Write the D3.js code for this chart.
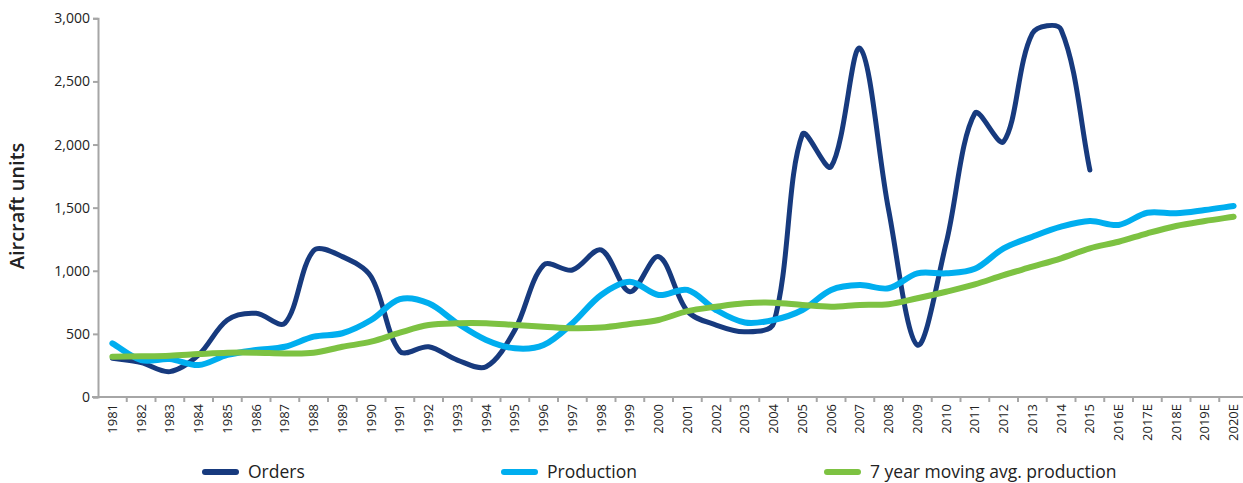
<!DOCTYPE html>
<html>
<head>
<meta charset="utf-8">
<script src="https://cdn.jsdelivr.net/npm/d3@7"></script>
<style>
  html, body { margin: 0; padding: 0; background: #fff; }
  svg { display: block; }
  text { font-family: "Open Sans", "Noto Sans", sans-serif; fill: #222; }
</style>
</head>
<body>
<svg id="chart" width="1243" height="483"></svg>
<script>
const categories = ["1981","1982","1983","1984","1985","1986","1987","1988","1989","1990",
  "1991","1992","1993","1994","1995","1996","1997","1998","1999","2000",
  "2001","2002","2003","2004","2005","2006","2007","2008","2009","2010",
  "2011","2012","2013","2014","2015","2016E","2017E","2018E","2019E","2020E"];

const orders = [306, 272, 201, 333, 610, 663, 584, 1160, 1112, 953,
  362, 398, 293, 240, 531, 1046, 1006, 1165, 834, 1112,
  680, 570, 517, 584, 2080, 1825, 2762, 1481, 412, 1218,
  2247, 2023, 2880, 2910, 1798, null, null, null, null, null];

const production = [425, 293, 300, 253, 333, 372, 398, 478, 505, 610,
  775, 742, 584, 452, 386, 412, 584, 808, 913, 808,
  848, 689, 590, 610, 689, 848, 887, 861, 980, 980,
  1015, 1178, 1270, 1349, 1394, 1363, 1460, 1455, 1481, 1513];

const movingAvg = [319, 322, 327, 340, 351, 351, 345, 350, 398, 438,
  510, 570, 584, 584, 570, 557, 544, 550, 578, 610,
  680, 715, 742, 747, 729, 715, 729, 735, 782, 834,
  892, 966, 1032, 1099, 1178, 1230, 1297, 1355, 1394, 1428];

const yTicks = [0, 500, 1000, 1500, 2000, 2500, 3000];

const seriesNames = ["Orders", "Production", "7 year moving avg. production"];
const seriesColors = ["#173a7e", "#00aeef", "#7dc242"];
const seriesWidths = [5, 6, 6];

// Spreadsheet-style smoothed line: Bezier with chord-length weighted tangents
function SmoothCurve(context) { this._context = context; }
SmoothCurve.prototype = {
  areaStart() { this._line = 0; },
  areaEnd() { this._line = NaN; },
  lineStart() { this._pts = []; },
  point(px, py) { this._pts.push([+px, +py]); },
  lineEnd() {
    const p = this._pts, n = p.length, c = this._context, f = 1 / 3;
    if (!n) return;
    c.moveTo(p[0][0], p[0][1]);
    if (n === 1) return;
    const dist = (a, b) => Math.hypot(b[0] - a[0], b[1] - a[1]);
    for (let i = 0; i < n - 1; i++) {
      const pm = p[Math.max(i - 1, 0)], p0 = p[i], p1 = p[i + 1], p2 = p[Math.min(i + 2, n - 1)];
      const d0 = dist(pm, p0), d1 = dist(p0, p1), d2 = dist(p1, p2);
      const w1 = d1 / ((d0 + d1) || 1), w2 = d1 / ((d1 + d2) || 1);
      const c1 = [p0[0] + (p1[0] - pm[0]) * f * w1, p0[1] + (p1[1] - pm[1]) * f * w1];
      const c2 = [p1[0] - (p2[0] - p0[0]) * f * w2, p1[1] - (p2[1] - p0[1]) * f * w2];
      c.bezierCurveTo(c1[0], c1[1], c2[0], c2[1], p1[0], p1[1]);
    }
  }
};
const smoothCurve = ctx => new SmoothCurve(ctx);

const svg = d3.select("#chart");
const x0 = 98, bandW = 28.75;
const x = d3.scaleBand().domain(categories).range([x0, x0 + bandW * categories.length]).padding(0);
const y = d3.scaleLinear().domain([0, 3000]).range([397, 18.3]);

// Y axis
const yAxis = svg.append("g").attr("transform", `translate(${x0},0)`)
  .call(d3.axisLeft(y).tickValues(yTicks).tickFormat(d3.format(",")).tickSize(5).tickPadding(3));
yAxis.select(".domain").attr("stroke", "#a6a6a6").attr("stroke-width", 2);
yAxis.selectAll(".tick line").attr("stroke", "#a6a6a6").attr("stroke-width", 2);
yAxis.selectAll(".tick text").attr("font-size", 14).attr("fill", "#222")
  .attr("font-family", "'Open Sans', sans-serif");

// X axis (ticks at band boundaries)
const xg = svg.append("g").attr("transform", `translate(0,${y(0)})`);
xg.append("line").attr("x1", x0 - 6).attr("x2", x.range()[1]).attr("y1", 0).attr("y2", 0)
  .attr("stroke", "#a6a6a6").attr("stroke-width", 2);
xg.selectAll("line.tk").data(categories).enter().append("line").attr("class", "tk")
  .attr("x1", d => x(d) + bandW).attr("x2", d => x(d) + bandW)
  .attr("y1", 0).attr("y2", 5).attr("stroke", "#a6a6a6").attr("stroke-width", 2);
xg.selectAll("text").data(categories).enter().append("text")
  .attr("transform", d => `translate(${x(d) + bandW / 2 + 4.5},7) rotate(-90)`)
  .attr("text-anchor", "end").attr("font-size", 13).attr("fill", "#222")
  .text(d => d);

// Y title
svg.append("text").attr("transform", "translate(24,206) rotate(-90)")
  .attr("text-anchor", "middle").attr("font-size", 20).attr("font-weight", 600)
  .attr("fill", "#222").text("Aircraft units");

// Lines
const allSeries = [orders, production, movingAvg];
const line = d3.line()
  .defined(d => d.v != null)
  .x(d => x(d.c) + bandW / 2)
  .y(d => y(d.v))
  .curve(smoothCurve);

allSeries.forEach((vals, i) => {
  const data = categories.map((c, j) => ({ c, v: vals[j] }));
  svg.append("path").datum(data)
    .attr("d", line)
    .attr("fill", "none")
    .attr("stroke", seriesColors[i])
    .attr("stroke-width", seriesWidths[i])
    .attr("stroke-linecap", "round")
    .attr("stroke-linejoin", "round");
});

// Legend
const legendX = [203, 502, 825];
const legend = svg.append("g");
seriesNames.forEach((name, i) => {
  legend.append("line").attr("x1", legendX[i] + 2).attr("x2", legendX[i] + 33)
    .attr("y1", 472).attr("y2", 472)
    .attr("stroke", seriesColors[i]).attr("stroke-width", 6).attr("stroke-linecap", "round");
  legend.append("text").attr("x", legendX[i] + 45).attr("y", 478)
    .attr("font-size", 17.5).attr("fill", "#222").text(name);
});
</script>
</body>
</html>
